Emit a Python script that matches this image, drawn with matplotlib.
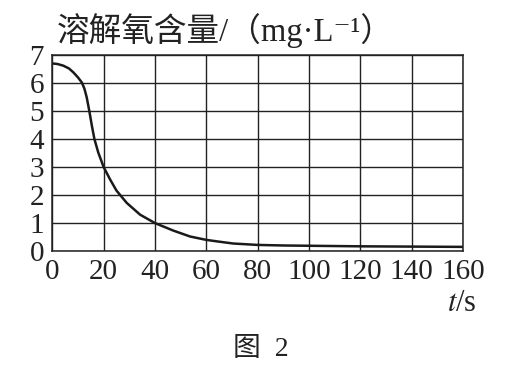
import matplotlib
matplotlib.use('Agg')
import matplotlib.pyplot as plt

# 数据
t_list = [0, 2, 4.3, 6.5, 8.2, 10, 11.5, 12.5, 13.4, 14.4, 15.4, 16.4, 17.9, 20, 22.5, 25, 29,
          34.2, 40, 47.2, 53.7, 60, 64.7, 70.5, 80, 90, 100, 120, 140, 160]
do_list = [6.70, 6.68, 6.62, 6.52, 6.38, 6.2, 6.02, 5.8, 5.49, 5.01, 4.48, 4.0, 3.52, 3.0, 2.56,
           2.16, 1.72, 1.30, 1.0, 0.73, 0.52, 0.40, 0.34, 0.27, 0.22, 0.20, 0.19, 0.17, 0.16, 0.15]
x_ticks = [0, 20, 40, 60, 80, 100, 120, 140, 160]
y_ticks = [0, 1, 2, 3, 4, 5, 6, 7]

plt.rcParams['mathtext.fontset'] = 'stix'
serif_cjk = ['Liberation Serif', 'DejaVu Serif', 'Noto Sans CJK SC']

fig = plt.figure(figsize=(5.27, 3.77), dpi=100)
ax = fig.add_axes([0.0993, 0.334, 0.779, 0.52])

ax.plot(t_list, do_list, color='#1a1a1a', linewidth=1.8, solid_joinstyle='round')

ax.set_xlim(0, 160)
ax.set_ylim(0, 7)
ax.set_xticks(x_ticks)
ax.set_yticks(y_ticks)
ax.grid(True, color='#222222', linewidth=1.0)
for s in ax.spines.values():
    s.set_color('#222222')
    s.set_linewidth(1.1)
ax.tick_params(length=0, labelsize=21, colors='#222222', pad=6)
for lab in ax.get_xticklabels() + ax.get_yticklabels():
    lab.set_family('Liberation Serif')

# 纵轴名
fig.text(0.108, 0.92, '溶解氧含量/（mg·L⁻¹）', family=serif_cjk, fontsize=23.5,
         color='#222222', ha='left', va='center')
# 横轴名
fig.text(0.877, 0.196, '$t$/s', family='Liberation Serif', fontsize=22, color='#222222',
         ha='center', va='center')
# 图号
fig.text(0.495, 0.072, '图  2', family=serif_cjk, fontsize=20, color='#222222',
         ha='center', va='center')

plt.savefig('out.png', dpi=100)
